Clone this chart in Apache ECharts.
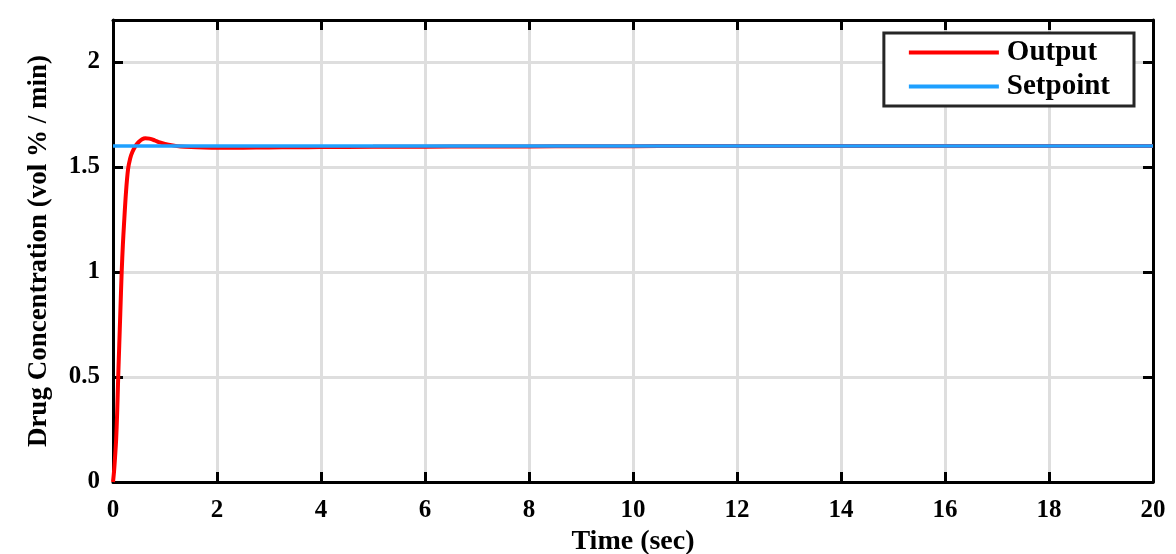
<!DOCTYPE html>
<html>
<head>
<meta charset="utf-8">
<script src="https://cdn.jsdelivr.net/npm/echarts@6/dist/echarts.min.js"></script>
<style>
html,body{margin:0;padding:0;background:#fff;overflow:hidden;}
#chart{width:1176px;height:554px;}
</style>
</head>
<body>
<div id="chart"></div>
<script>
const timeSec = [0, 0.02, 0.04, 0.06, 0.08, 0.10, 0.12, 0.14, 0.167, 0.19, 0.21, 0.25, 0.29, 0.33, 0.37, 0.44, 0.50, 0.56, 0.62, 0.70, 0.80, 0.90, 1.0, 1.15, 1.3, 1.5, 1.75, 2.0, 2.5, 3.0, 3.5, 4.0, 5.0, 6.0, 7.0, 8.0, 9.0, 10.0, 11.0, 12.0, 14.0, 16.0, 18.0, 20.0];
const outputVals = [0, 0.05, 0.12, 0.2, 0.33, 0.5, 0.65, 0.8, 1.0, 1.13, 1.22, 1.38, 1.49, 1.54, 1.57, 1.603, 1.62, 1.632, 1.637, 1.635, 1.627, 1.617, 1.61, 1.603, 1.598, 1.595, 1.593, 1.592, 1.592, 1.593, 1.594, 1.595, 1.596, 1.597, 1.598, 1.598, 1.599, 1.599, 1.6, 1.6, 1.6, 1.6, 1.6, 1.6];
const setpointTime = [0, 20];
const setpointVals = [1.6, 1.6];
const xTicks = [0, 2, 4, 6, 8, 10, 12, 14, 16, 18, 20];
const yTicks = [0, 0.5, 1, 1.5, 2];

const FONT = '"Liberation Serif", "Times New Roman", serif';
const chart = echarts.init(document.getElementById('chart'));

const baseAxisLine = { show: true, onZero: false, lineStyle: { color: '#000', width: 3 } };
const tickStyle = { show: true, inside: true, length: 10, lineStyle: { color: '#000', width: 3 } };

chart.setOption({
  animation: false,
  backgroundColor: '#fff',
  grid: { left: 113, right: 23, top: 20, bottom: 72, containLabel: false, outerBoundsMode: 'none' },
  legend: {
    right: 42, top: 33,
    orient: 'vertical',
    backgroundColor: '#fff',
    borderColor: '#262626',
    borderWidth: 3,
    borderRadius: 0,
    padding: [5, 24, 5, 25],
    itemGap: 5,
    itemWidth: 90,
    itemHeight: 4,
    icon: 'rect',
    textStyle: { fontFamily: FONT, fontWeight: 'bold', fontSize: 29, color: '#000', padding: [0, 0, 0, 3] },
    data: ['Output', 'Setpoint']
  },
  xAxis: [{
    type: 'value', min: 0, max: 20, interval: 2,
    name: 'Time (sec)', nameLocation: 'middle', nameGap: 42,
    nameTextStyle: { fontFamily: FONT, fontWeight: 'bold', fontSize: 28, color: '#000' },
    axisLine: baseAxisLine,
    axisTick: tickStyle,
    axisLabel: { fontFamily: FONT, fontWeight: 'bold', fontSize: 25, color: '#000', margin: 16,
      formatter: v => xTicks.includes(v) ? String(v) : '' },
    splitLine: { show: true, lineStyle: { color: '#dedede', width: 3 } }
  }, {
    type: 'value', min: 0, max: 20, interval: 2, position: 'top',
    axisLine: baseAxisLine, axisTick: tickStyle, axisLabel: { show: false }, splitLine: { show: false }
  }],
  yAxis: [{
    type: 'value', min: 0, max: 2.2, interval: 0.5,
    name: 'Drug Concentration (vol % / min)', nameLocation: 'middle', nameGap: 60,
    nameTextStyle: { fontFamily: FONT, fontWeight: 'bold', fontSize: 27, color: '#000' },
    axisLine: baseAxisLine,
    axisTick: tickStyle,
    axisLabel: { fontFamily: FONT, fontWeight: 'bold', fontSize: 25, color: '#000', margin: 13, showMaxLabel: false,
      formatter: v => yTicks.includes(v) ? String(v) : '' },
    splitLine: { show: true, lineStyle: { color: '#dedede', width: 3 } }
  }, {
    type: 'value', min: 0, max: 2.2, interval: 0.5, position: 'right',
    axisLine: baseAxisLine, axisTick: tickStyle, axisLabel: { show: false }, splitLine: { show: false }
  }],
  series: [{
    name: 'Output', type: 'line', showSymbol: false, smooth: 0.3,
    lineStyle: { color: '#ff0000', width: 4 }, itemStyle: { color: '#ff0000' },
    data: timeSec.map((t, i) => [t, outputVals[i]]), z: 3
  }, {
    name: 'Setpoint', type: 'line', showSymbol: false,
    lineStyle: { color: '#1ea0ff', width: 3.5 }, itemStyle: { color: '#1ea0ff' },
    data: setpointTime.map((t, i) => [t, setpointVals[i]]), z: 4
  }]
});
</script>
</body>
</html>
